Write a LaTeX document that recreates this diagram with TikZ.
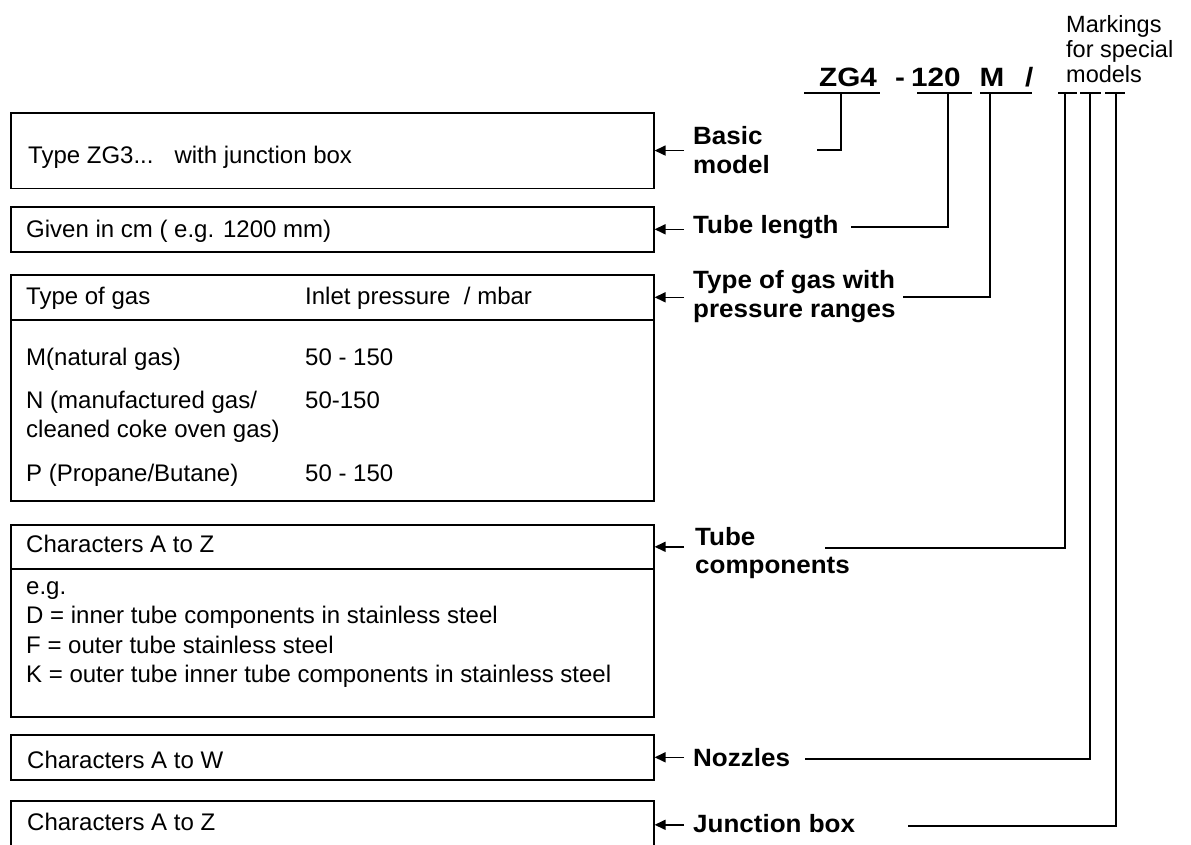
\documentclass[tikz,border=0pt]{standalone}
\usepackage{fontspec}
\setmainfont{Liberation Sans}
\newfontfamily\codefont{Liberation Sans Bold}[FakeStretch=1.12]
\newfontfamily\labfont{Liberation Sans Bold}[FakeStretch=1.04]
\usetikzlibrary{arrows.meta}
\begin{document}
\begin{tikzpicture}[x=1pt,y=-1pt,
  box/.style={draw, line width=1.6pt, inner sep=0pt, anchor=north west, minimum width=643pt},
  txt/.style={anchor=base west, inner sep=0pt, font=\fontsize{24}{28}\selectfont},
  lab/.style={anchor=base west, inner sep=0pt, font=\fontsize{25}{29}\labfont},
  codetxt/.style={anchor=base west, inner sep=0pt, font=\fontsize{26.5}{30}\codefont},
  arr/.style={line width=1.6pt, -{Triangle[length=11pt,width=10pt]}},
  con/.style={line width=1.5pt}]
\useasboundingbox (0,0) rectangle (1191,844);
\clip (0,0) rectangle (1191,844);

% ---------- boxes ----------
\node[box, minimum height=75.5pt] (B1) at (10,112) {};
\node[box, minimum height=45pt] (B2) at (10,206) {};
\node[box, minimum height=45pt] (B3h) at (10,274) {};
\node[box, minimum height=181pt] (B3b) at (10,319) {};
\node[box, minimum height=44pt] (B4h) at (10,524) {};
\node[box, minimum height=148pt] (B4b) at (10,568) {};
\node[box, minimum height=45pt] (B5) at (10,734) {};
\node[box, minimum height=48pt] (B6) at (10,800) {};

% ---------- box texts ----------
\node[txt] (t1) at (28,163) {Type ZG3...\hspace{21pt}with junction box};
\node[txt] (t2) at (26,237) {Given in cm ( e.g. 1200 mm)};
\node[txt] (t3a) at (26,304) {Type of gas};
\node[txt] (t3b) at (305,304) {Inlet pressure\ \ / mbar};
\node[txt] (t3c) at (26,365) {M(natural gas)};
\node[txt] (t3d) at (305,365) {50 - 150};
\node[txt] (t3e) at (26,408) {N (manufactured gas/};
\node[txt] (t3f) at (26,437) {cleaned coke oven gas)};
\node[txt] (t3g) at (305,408) {50-150};
\node[txt] (t3h) at (26,481) {P (Propane/Butane)};
\node[txt] (t3i) at (305,481) {50 - 150};
\node[txt] (t4a) at (26,552) {Characters A to Z};
\node[txt] (t4b) at (26,594) {e.g.};
\node[txt] (t4c) at (26,623.5) {D = inner tube components in stainless steel};
\node[txt] (t4d) at (26,653) {F = outer tube stainless steel};
\node[txt] (t4e) at (26,682.5) {K = outer tube inner tube components in stainless steel};
\node[txt] (t5) at (27,768) {Characters A to W};
\node[txt] (t6) at (27,830) {Characters A to Z};

% ---------- right labels ----------
\node[lab] (l1a) at (693,144) {Basic};
\node[lab] (l1b) at (693,173) {model};
\node[lab] (l2) at (693,233) {Tube length};
\node[lab] (l3a) at (693,288) {Type of gas with};
\node[lab] (l3b) at (693,317) {pressure ranges};
\node[lab] (l4a) at (695,545) {Tube};
\node[lab] (l4b) at (695,573) {components};
\node[lab] (l5) at (693,766) {Nozzles};
\node[lab] (l6) at (693,832) {Junction box};

% ---------- type code ----------
\node[codetxt] (c1) at (819,86) {ZG4};
\node[codetxt] (c2) at (895,86) {-};
\node[codetxt] (c3) at (911,86) {120};
\node[codetxt] (c4) at (979.5,86) {M};
\node[codetxt] (c5) at (1025,86) {/};
\node[txt, font=\fontsize{23.5}{25}\selectfont] (mk1) at (1066,32) {Markings};
\node[txt, font=\fontsize{23.5}{25}\selectfont] (mk2) at (1066,57) {for special};
\node[txt, font=\fontsize{23.5}{25}\selectfont] (mk3) at (1066,82) {models};

% underline segments
\coordinate (u1a) at (804,93);  \coordinate (u1b) at (880,93);
\coordinate (u2a) at (917,93);  \coordinate (u2b) at (972,93);
\coordinate (u3a) at (980,93);  \coordinate (u3b) at (1032,93);
\coordinate (u4a) at (1058,93); \coordinate (u4b) at (1077,93);
\coordinate (u5a) at (1080,93); \coordinate (u5b) at (1101,93);
\coordinate (u6a) at (1105,93); \coordinate (u6b) at (1125,93);
\foreach \i in {1,...,6} {\draw[con] (u\i a) -- (u\i b);}

% connector tops and ends
\coordinate (v1) at (841,93);  \coordinate (e1) at (816.7,150);
\coordinate (v2) at (948,93);  \coordinate (e2) at (850.7,227);
\coordinate (v3) at (990,93);  \coordinate (e3) at (903,297);
\coordinate (v4) at (1065,93); \coordinate (e4) at (825,548);
\coordinate (v5) at (1090,93); \coordinate (e5) at (805,759);
\coordinate (v6) at (1116,93); \coordinate (e6) at (908,826);
\foreach \i in {1,...,6} {\draw[con] (v\i) |- (e\i);}

% ---------- arrows into the boxes ----------
\coordinate (ax) at (684,0);
\draw[arr] (ax |- B1.east) -- (B1.east);
\draw[arr] (ax |- B2.east) -- (B2.east);
\draw[arr] (ax |- B3h.east) -- (B3h.east);
\draw[arr] (ax |- B4h.east) -- (B4h.east);
\draw[arr] (ax |- B5.east) -- (B5.east);
\draw[arr] (ax |- B6.east) -- (B6.east);
\end{tikzpicture}
\end{document}
